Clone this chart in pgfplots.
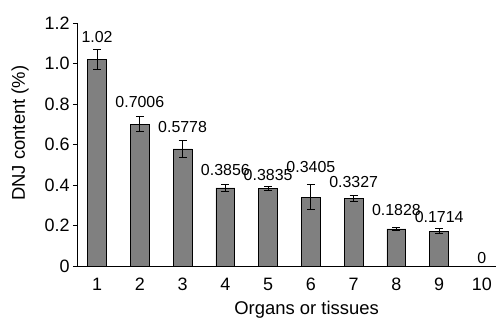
\documentclass[border=0pt]{standalone}
\usepackage{pgfplots}
\pgfplotsset{compat=1.18}
\usepackage{fontspec}
\setmainfont{Liberation Sans}
\definecolor{barfill}{RGB}{128,128,128}
\begin{document}
\begin{tikzpicture}
\begin{axis}[
  scale only axis,
  width=419bp, height=243bp,
  xmin=0.53, xmax=10.33,
  ymin=0, ymax=1.2,
  axis x line*=bottom, axis y line*=left,
  axis line style={black, line width=0.9pt},
  xtick={1,...,10},
  minor xtick={1.5,2.5,...,9.5},
  x tick style={draw=none},
  minor x tick style={black, line width=0.7pt},
  minor tick length=4bp,
  xtick align=inside,
  ytick align=outside,
  ytick={0,0.2,...,1.2},
  yticklabels={0,0.2,0.4,0.6,0.8,1.0,1.2},
  y tick style={black, line width=0.7pt},
  major tick length=4bp,
  tick label style={font=\fontsize{18}{20}\selectfont},
  xticklabel style={anchor=base, yshift=-24bp},
  /pgf/number format/assume math mode=true,
  xlabel={Organs or tissues},
  ylabel={DNJ content (\%)},
  every axis x label/.style={at={(axis description cs:0.548,-0.2016)}, anchor=base, font=\fontsize{18.5}{21}\selectfont},
  every axis y label/.style={at={(axis description cs:-0.136,0.547)}, anchor=center, rotate=90, font=\fontsize{18.5}{21}\selectfont},
  clip=false,
]
\addplot[ybar, bar width=0.44, fill=barfill, draw=black, line width=0.8pt,
  error bars/.cd, y dir=both, y explicit,
  error bar style={black, line width=0.8pt},
  error mark options={rotate=90, mark size=4bp, line width=0.8pt, black}]
  coordinates {
  (1,1.02) +- (0,0.048)
  (2,0.7006) +- (0,0.037)
  (3,0.5778) +- (0,0.041)
  (4,0.3856) +- (0,0.018)
  (5,0.3835) +- (0,0.010)
  (6,0.3405) +- (0,0.060)
  (7,0.3327) +- (0,0.016)
  (8,0.1828) +- (0,0.008)
  (9,0.1714) +- (0,0.012)
  (10,0) +- (0,0)
  };
\addplot[draw=none, mark=none, point meta=explicit symbolic,
  nodes near coords,
  every node near coord/.append style={anchor=center, font=\fontsize{16}{18}\selectfont, inner sep=0pt}]
  coordinates {
  (1,1.131) [1.02]
  (2,0.81) [0.7006]
  (3,0.686) [0.5778]
  (4,0.474) [0.3856]
  (5,0.449) [0.3835]
  (6,0.489) [0.3405]
  (7,0.415) [0.3327]
  (8,0.277) [0.1828]
  (9,0.242) [0.1714]
  (10,0.04) [0]
  };
\coordinate (bl) at (rel axis cs:0,0);
\coordinate (tr) at (rel axis cs:1,1);
\end{axis}
\pgfresetboundingbox
\path ([xshift=-77bp,yshift=-52bp]bl) rectangle ([yshift=23bp]tr);
\end{tikzpicture}
\end{document}
